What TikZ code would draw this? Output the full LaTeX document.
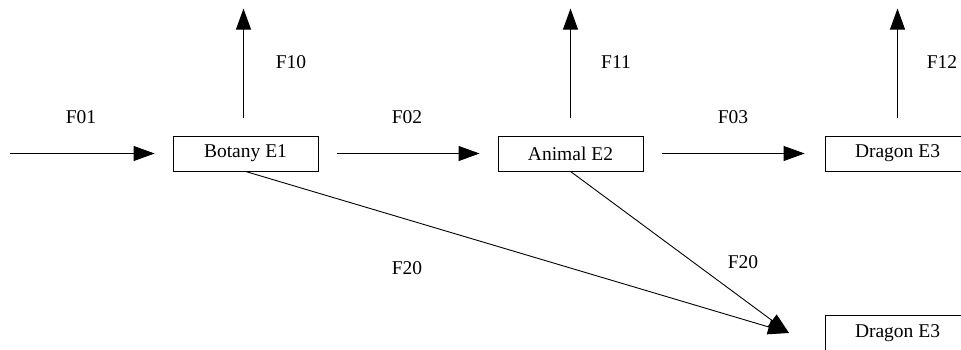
\documentclass[tikz,border=0pt]{standalone}
\usepackage{fontspec}
\setmainfont{Liberation Serif}
\usetikzlibrary{arrows.meta}
\begin{document}
\begin{tikzpicture}[x=1pt,y=-1pt,
  box/.style={draw,line width=0.9pt,minimum width=145pt,minimum height=35pt,inner sep=0pt,font=\fontsize{19.5}{23}\selectfont},
  lbl/.style={font=\fontsize{19.5}{23}\selectfont,inner sep=0pt},
  arr/.style={line width=0.9pt,-{Triangle[length=21pt,width=15pt]}}]
\clip (0,0) rectangle (961,350);
\node[box] (b1) at (245.5,153.5) {Botany E1};
\node[box] (b2) at (570.5,153.5) {Animal E2};
\node[box] (b3) at (897.5,153.5) {Dragon E3};
\node[box] (b4) at (897.5,333) {Dragon E3};
\coordinate (s0) at (10,153.5);
\coordinate (t) at (789,333);
\draw[arr] (s0) -- ([xshift=-18pt]b1.west);
\draw[arr] ([xshift=19pt]b1.east) -- ([xshift=-18pt]b2.west);
\draw[arr] ([xshift=19pt]b2.east) -- ([xshift=-20pt]b3.west);
\draw[arr] ([xshift=-2pt,yshift=18pt]b1.north) -- ([xshift=-2pt,yshift=127pt]b1.north);
\draw[arr] ([xshift=0pt,yshift=18pt]b2.north) -- ([xshift=0pt,yshift=127pt]b2.north);
\draw[arr] ([xshift=0pt,yshift=18pt]b3.north) -- ([xshift=0pt,yshift=127pt]b3.north);
\draw[arr] (b1.south) -- (t);
\draw[arr] (b2.south) -- (t);
\node[lbl] (l01) at (81,117) {F01};
\node[lbl] (l02) at (407,117) {F02};
\node[lbl] (l03) at (733,117) {F03};
\node[lbl] (l10) at (291,62) {F10};
\node[lbl] (l11) at (616,62) {F11};
\node[lbl] (l12) at (942,62) {F12};
\node[lbl] (l20a) at (407,268) {F20};
\node[lbl] (l20b) at (743,262) {F20};
\end{tikzpicture}
\end{document}
